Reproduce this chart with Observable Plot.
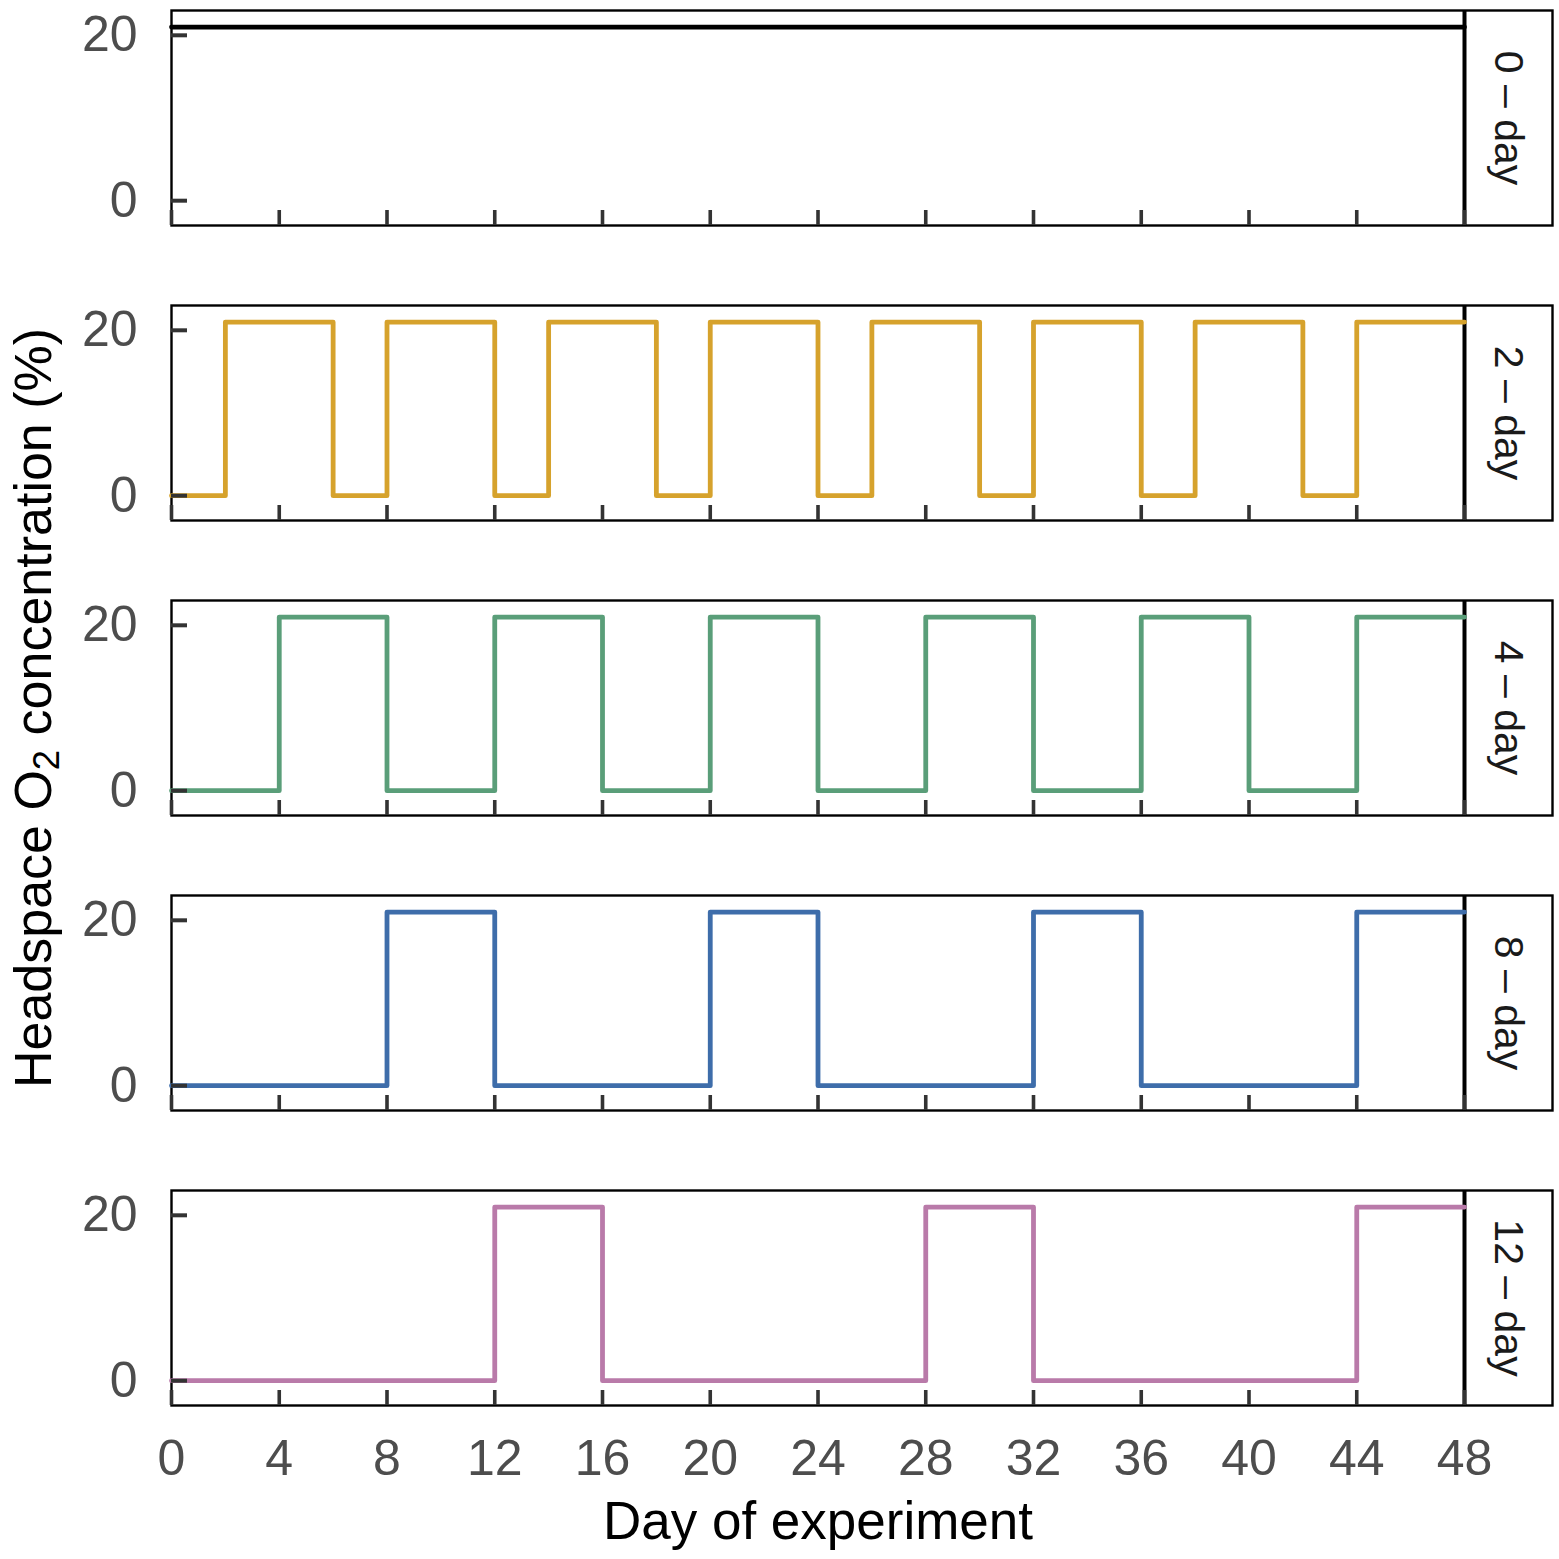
<!DOCTYPE html>
<html>
<head>
<meta charset="utf-8">
<script src="https://cdn.jsdelivr.net/npm/d3@7"></script>
<script src="https://cdn.jsdelivr.net/npm/@observablehq/plot@0.6"></script>
<style>
  html, body { margin: 0; padding: 0; background: #fff; }
  #wrap { position: relative; width: 1559px; height: 1559px; }
  #ytitle {
    position: absolute; left: 33px; top: 708px;
    transform: translate(-50%, -50%) rotate(-90deg);
    transform-origin: 50% 50%;
    font-family: "Liberation Sans", Arial, sans-serif; font-size: 52px; color: #000;
    white-space: nowrap; line-height: 1;
  }
</style>
</head>
<body>
<div id="wrap"></div>
<script>
// Facet panels and colours
const panels = ["0 – day", "2 – day", "4 – day", "8 – day", "12 – day"];
const colors = ["#000000", "#D6A22C", "#5A9E79", "#3E6DAA", "#B97AA9"];

// Change points (step-after) for each treatment: day and headspace O2 (%)
const zeroDays = [0, 48];
const zeroO2   = [21, 21];
const twoDays  = [0, 2, 6, 8, 12, 14, 18, 20, 24, 26, 30, 32, 36, 38, 42, 44, 48];
const twoO2    = [0, 21, 0, 21, 0, 21, 0, 21, 0, 21, 0, 21, 0, 21, 0, 21, 21];
const fourDays = [0, 4, 8, 12, 16, 20, 24, 28, 32, 36, 40, 44, 48];
const fourO2   = [0, 21, 0, 21, 0, 21, 0, 21, 0, 21, 0, 21, 21];
const eightDays = [0, 8, 12, 20, 24, 32, 36, 44, 48];
const eightO2   = [0, 21, 0, 21, 0, 21, 0, 21, 21];
const twelveDays = [0, 12, 16, 28, 32, 44, 48];
const twelveO2   = [0, 21, 0, 21, 0, 21, 21];

// Tick labels
const xTicks = [0, 4, 8, 12, 16, 20, 24, 28, 32, 36, 40, 44, 48];
const yTicks = [0, 20];

const seriesDays = [zeroDays, twoDays, fourDays, eightDays, twelveDays];
const seriesO2 = [zeroO2, twoO2, fourO2, eightO2, twelveO2];
const rows = [];
panels.forEach((p, i) => {
  seriesDays[i].forEach((d, j) => rows.push({panel: p, day: d, o2: seriesO2[i][j]}));
});

const font = '"Liberation Sans", Arial, sans-serif';

const chart = Plot.plot({
  width: 1559,
  height: 1559,
  marginTop: 8,
  marginBottom: 151,
  marginLeft: 171,
  marginRight: 95,
  style: {fontFamily: font, background: "#fff", overflow: "visible"},
  x: {domain: [0, 48]},
  y: {domain: [-3, 23]},
  fy: {domain: panels, paddingInner: 0.27, paddingOuter: 0, axis: null, label: null},
  color: {domain: panels, range: colors},
  marks: [
    Plot.frame({stroke: "#000", strokeWidth: 2.4, insetRight: -88}),
    Plot.ruleX([48], {stroke: "#000", strokeWidth: 4}),
    Plot.line(rows, {x: "day", y: "o2", fy: "panel", stroke: "panel", curve: "step-after", strokeWidth: 4.8}),
    Plot.text(panels, {fy: d => d, text: d => d, frameAnchor: "right", dx: 44, rotate: 90,
      textAnchor: "middle", lineAnchor: "middle", fontSize: 41, fill: "#1A1A1A"}),
    Plot.axisY({ticks: yTicks, tickSize: -16, tickPadding: 50, stroke: "#333", strokeWidth: 4,
      fill: "#4D4D4D", fontSize: 50, label: null}),
    Plot.axisX({ticks: xTicks, facetAnchor: null, tickSize: -15, stroke: "#333", strokeWidth: 3.6,
      fill: "none", label: null}),
    Plot.axisX({ticks: xTicks, tickSize: 0, tickPadding: 34, fill: "#4D4D4D", fontSize: 50, label: null}),
    Plot.axisX({ticks: [], tickSize: 0, fill: "#000", fontSize: 53, label: "Day of experiment",
      labelAnchor: "center", labelArrow: "none", labelOffset: 133})
  ]
});

const wrap = document.getElementById("wrap");
wrap.appendChild(chart);
const yt = document.createElement("div");
yt.id = "ytitle";
yt.innerHTML = "Headspace O<sub style=\"font-size:0.7em;vertical-align:-0.22em;line-height:0\">2</sub> concentration (%)";
wrap.appendChild(yt);
</script>
</body>
</html>
